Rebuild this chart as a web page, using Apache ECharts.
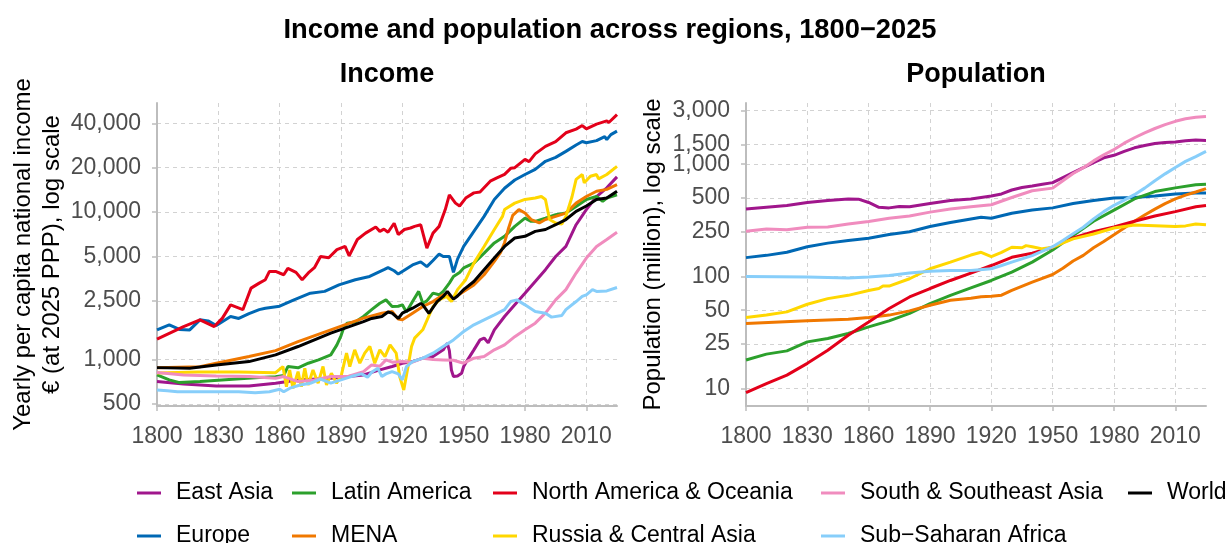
<!DOCTYPE html>
<html><head><meta charset="utf-8">
<script src="https://cdn.jsdelivr.net/npm/echarts@6/dist/echarts.min.js"></script>
<style>html,body{margin:0;padding:0;background:#fff}#c{width:1230px;height:543px}</style>
</head><body><div id="c"></div>
<script>
const FONT = "'Liberation Sans', Arial, Helvetica, sans-serif";
const xTicks = [1800, 1830, 1860, 1890, 1920, 1950, 1980, 2010];
const incomeTicks = [500, 1000, 2500, 5000, 10000, 20000, 40000];
const popTicks = [10, 25, 50, 100, 250, 500, 1000, 1500, 3000];

const regionNames = ['East Asia', 'Europe', 'Latin America', 'MENA', 'North America & Oceania',
  'Russia & Central Asia', 'South & Southeast Asia', 'Sub\u2212Saharan Africa', 'World'];
const regionColors = ['#A0168C', '#0068B4', '#2CA02C', '#F07800', '#E3001A',
  '#FFD700', '#F08CBE', '#87CEFA', '#000000'];

// Income, yearly per capita national income (EUR 2025 PPP)
const incEastAsia = [[1800,709],[1813,684],[1829,663],[1845,663],[1858,692],[1869,728],[1885,748],[1901,787],[1909,851],[1915,897],[1920,945],[1925,969],[1930,1022],[1935,1048],[1940,1164],[1942,1290],[1943,1150],[1944,850],[1945,767],[1947,775],[1949,808],[1950,897],[1952,1000],[1955,1164],[1958,1360],[1960,1400],[1962,1300],[1965,1592],[1970,1960],[1975,2350],[1980,2820],[1985,3385],[1990,4070],[1995,5000],[2000,5850],[2005,8210],[2010,10400],[2015,12750],[2020,14600],[2025,17330]];
const incEurope = [[1800,1592],[1806,1720],[1811,1600],[1816,1590],[1821,1860],[1825,1830],[1829,1700],[1836,1960],[1840,1900],[1845,2050],[1850,2180],[1853,2230],[1860,2300],[1867,2540],[1875,2820],[1882,2900],[1889,3210],[1897,3480],[1904,3660],[1911,4070],[1913,4200],[1916,4000],[1918,3800],[1920,3960],[1925,4380],[1929,4600],[1932,4270],[1935,4700],[1938,5200],[1940,5000],[1943,5000],[1945,3900],[1947,4800],[1950,5850],[1955,7400],[1960,9350],[1965,12180],[1970,14500],[1975,16500],[1980,17970],[1985,19500],[1990,22100],[1995,23500],[2000,25800],[2005,28500],[2008,30100],[2010,29500],[2015,30500],[2019,32500],[2020,31000],[2022,33500],[2025,35400]];
const incLatinAmerica = [[1800,787],[1806,728],[1811,698],[1821,709],[1837,736],[1850,755],[1858,765],[1862,780],[1864,897],[1869,880],[1874,945],[1879,995],[1885,1076],[1888,1258],[1890,1450],[1891,1592],[1893,1766],[1897,1800],[1901,1960],[1905,2180],[1909,2410],[1912,2540],[1915,2290],[1918,2300],[1920,2350],[1922,2100],[1925,2475],[1928,2900],[1930,2410],[1932,2500],[1935,2820],[1938,2750],[1940,2900],[1943,3300],[1945,3660],[1948,3900],[1950,4180],[1955,4510],[1960,5270],[1965,6180],[1970,6850],[1975,8000],[1980,9100],[1983,8650],[1985,8650],[1990,9100],[1995,9600],[2000,9850],[2005,10930],[2010,12180],[2015,12750],[2018,11830],[2020,12450],[2025,13100]];
const incMENA = [[1800,880],[1821,895],[1829,945],[1845,1048],[1858,1150],[1869,1325],[1885,1592],[1901,1910],[1910,2064],[1915,2120],[1918,1880],[1920,1860],[1925,2064],[1930,2290],[1935,2475],[1940,2750],[1945,2610],[1950,2900],[1955,3210],[1960,3760],[1965,4630],[1968,5300],[1970,6200],[1972,7800],[1974,9500],[1977,10400],[1980,9850],[1983,8900],[1987,8440],[1990,8900],[1995,9350],[2000,9850],[2005,11500],[2010,12750],[2015,13840],[2020,14250],[2025,15330]];
const incNorthAmerica = [[1800,1375],[1813,1675],[1821,1860],[1828,1675],[1832,1910],[1836,2350],[1842,2180],[1846,3050],[1850,3300],[1853,3480],[1855,3960],[1858,3960],[1862,3760],[1864,4150],[1868,3900],[1871,3480],[1874,3870],[1877,4200],[1880,5000],[1884,4900],[1888,5570],[1892,5850],[1894,5050],[1898,6520],[1902,7200],[1907,7920],[1909,7400],[1911,7660],[1913,7300],[1916,8400],[1918,7040],[1921,7620],[1924,7800],[1926,8000],[1929,8200],[1932,5700],[1935,7200],[1938,8000],[1941,10400],[1943,13100],[1946,11500],[1948,11000],[1951,12450],[1955,13500],[1958,13700],[1963,16200],[1966,17000],[1970,18000],[1973,19800],[1975,20000],[1980,22780],[1982,22000],[1985,24800],[1990,27900],[1995,30000],[2000,34500],[2005,36500],[2008,38600],[2010,36700],[2015,39500],[2020,41500],[2021,40500],[2025,45800]];
const incRussia = [[1800,810],[1820,825],[1840,825],[1858,815],[1861.6,897],[1863.3,655],[1864.9,851],[1866.5,638],[1869,829],[1870.6,655],[1872.3,874],[1873.9,673],[1876.3,851],[1878.8,692],[1881.2,897],[1882.9,673],[1885.3,808],[1887.8,692],[1890.2,787],[1892.7,1105],[1894.3,897],[1896.7,1164],[1899.2,945],[1901.6,1105],[1904.1,1226],[1906.5,945],[1909,1164],[1911.5,1048],[1914,1258],[1917,1105],[1918.7,767],[1920.7,622],[1922.8,897],[1924.5,1226],[1926,1397],[1930,1592],[1935,2290],[1938,2540],[1941.6,2680],[1944,2475],[1947,2980],[1951,3480],[1955,4510],[1960,5850],[1965,7620],[1969,9350],[1970,10400],[1975,11500],[1980,12180],[1985,12450],[1988,12750],[1990,12180],[1992,8900],[1995,8440],[1998,8300],[2000,9350],[2003,12700],[2005,16660],[2008,17970],[2009,15800],[2012,17500],[2015,17970],[2016,16800],[2020,17970],[2025,20400]];
const incSouthAsia = [[1800,818],[1813,787],[1829,775],[1845,767],[1858,748],[1862,767],[1869,709],[1877,728],[1885,767],[1893,767],[1901,829],[1905,920],[1909,900],[1912,995],[1915,960],[1920,969],[1925,960],[1930,1022],[1935,1000],[1940,995],[1945,990],[1950,945],[1955,1022],[1960,1048],[1965,1164],[1970,1258],[1975,1430],[1980,1592],[1985,1766],[1990,2064],[1995,2540],[2000,2980],[2005,3860],[2010,4880],[2015,5850],[2020,6520],[2025,7300]];
const incSubSaharan = [[1800,622],[1805,615],[1810,606],[1820,606],[1830,606],[1840,606],[1848,595],[1855,605],[1860,630],[1862,605],[1865,640],[1870,673],[1875,690],[1880,736],[1885,692],[1890,728],[1895,767],[1900,800],[1903,760],[1905,820],[1908,874],[1910,767],[1912,800],[1915,829],[1918,800],[1920,728],[1922,897],[1925,969],[1930,1022],[1935,1105],[1940,1226],[1945,1360],[1950,1550],[1955,1720],[1960,1860],[1965,2010],[1970,2180],[1973,2475],[1976,2540],[1980,2350],[1985,2120],[1990,2064],[1993,1940],[1998,1990],[2000,2180],[2005,2475],[2008,2680],[2010,2750],[2013,2980],[2015,2900],[2020,2920],[2025,3080]];
const incWorld = [[1800,882],[1816,874],[1829,920],[1845,969],[1858,1076],[1869,1226],[1885,1510],[1901,1810],[1905,1900],[1910,1960],[1913,2100],[1915,2064],[1918,1900],[1920,2064],[1925,2230],[1929,2400],[1930,2350],[1933,2060],[1937,2475],[1940,2680],[1942,2900],[1945,2570],[1947,2700],[1950,2980],[1955,3385],[1960,4070],[1965,4880],[1970,5850],[1975,6670],[1980,6850],[1985,7400],[1990,7620],[1995,8210],[2000,8900],[2005,10100],[2010,11000],[2015,12180],[2020,12450],[2025,13840]];

// Population (million)
const popEastAsia = [[1800,398],[1810,413],[1820,428],[1830,456],[1840,474],[1850,490],[1855,488],[1860,456],[1865,413],[1870,408],[1875,420],[1880,418],[1890,446],[1900,474],[1910,490],[1920,521],[1925,543],[1930,589],[1935,620],[1940,640],[1945,662],[1950,685],[1955,760],[1960,842],[1965,930],[1970,1030],[1975,1140],[1980,1200],[1985,1300],[1990,1400],[1995,1470],[2000,1530],[2005,1560],[2010,1580],[2015,1620],[2020,1640],[2025,1630]];
const popEurope = [[1800,147],[1810,154],[1820,164],[1830,184],[1840,198],[1850,209],[1860,219],[1870,236],[1880,250],[1890,278],[1900,302],[1910,325],[1915,337],[1920,330],[1930,365],[1940,390],[1950,408],[1960,446],[1970,474],[1980,500],[1990,505],[2000,521],[2010,543],[2020,553],[2025,555]];
const popLatinAmerica = [[1800,18],[1810,20.3],[1820,21.7],[1830,26.1],[1840,28],[1850,31],[1860,35.5],[1870,40.2],[1880,46.8],[1890,57.2],[1900,67.8],[1910,79],[1920,92],[1930,109],[1940,134],[1950,172],[1960,231],[1970,310],[1980,390],[1990,490],[2000,570],[2010,615],[2020,655],[2025,662]];
const popMENA = [[1800,38.1],[1830,40.2],[1850,41.5],[1860,43],[1870,45.2],[1880,49.3],[1890,55.3],[1900,61.3],[1910,64],[1915,66],[1920,66.5],[1925,68],[1930,75],[1940,88.9],[1950,104],[1955,118],[1960,137],[1965,154],[1970,180],[1975,205],[1980,235],[1985,270],[1990,310],[1995,352],[2000,398],[2005,445],[2010,490],[2015,530],[2020,565],[2025,605]];
const popNorthAmerica = [[1800,9.2],[1810,11.1],[1820,13.2],[1830,16.8],[1840,22],[1850,29.9],[1860,39.3],[1870,51.7],[1880,65.6],[1890,78],[1900,92],[1910,107],[1920,125],[1930,148],[1940,161],[1950,182],[1960,220],[1970,250],[1980,276],[1990,310],[2000,345],[2010,378],[2020,418],[2025,428]];
const popRussia = [[1800,43],[1810,45.2],[1820,48.3],[1830,56.5],[1840,63.4],[1850,67.8],[1860,75],[1865,78],[1867,82],[1870,82],[1880,95.3],[1890,117],[1900,134],[1910,155],[1915,164],[1920,150],[1925,164],[1930,182],[1935,180],[1937,188],[1940,184],[1945,176],[1950,182],[1960,216],[1970,239],[1980,270],[1990,287],[2000,283],[2010,278],[2015,282],[2020,293],[2025,288]];
const popSouthAsia = [[1800,253],[1810,265],[1820,260],[1830,274],[1840,276],[1850,293],[1860,309],[1870,330],[1880,345],[1890,374],[1900,398],[1910,418],[1920,435],[1930,505],[1940,580],[1950,612],[1955,713],[1960,825],[1965,930],[1970,1070],[1975,1210],[1980,1350],[1985,1540],[1990,1720],[1995,1900],[2000,2080],[2005,2250],[2010,2410],[2015,2540],[2020,2620],[2025,2660]];
const popSubSaharan = [[1800,100],[1830,98.7],[1850,97],[1860,98.7],[1870,102],[1880,107],[1890,111],[1900,113],[1910,113],[1920,117],[1925,125],[1930,134],[1940,153],[1950,184],[1955,209],[1960,240],[1965,274],[1970,325],[1975,378],[1980,430],[1985,478],[1990,535],[1995,612],[2000,713],[2005,820],[2010,935],[2015,1060],[2020,1170],[2025,1300]];

const incomeData = [incEastAsia, incEurope, incLatinAmerica, incMENA, incNorthAmerica, incRussia, incSouthAsia, incSubSaharan, incWorld];
const popData = [popEastAsia, popEurope, popLatinAmerica, popMENA, popNorthAmerica, popRussia, popSouthAsia, popSubSaharan, null];

// legend layout: [name, column, row]
const legendItems = [
  ['East Asia', 0, 0], ['Europe', 0, 1],
  ['Latin America', 1, 0], ['MENA', 1, 1],
  ['North America & Oceania', 2, 0], ['Russia & Central Asia', 2, 1],
  ['South & Southeast Asia', 3, 0], ['Sub\u2212Saharan Africa', 3, 1],
  ['World', 4, 0]
];
const legendLefts = [137, 292, 493, 821, 1128];
const legendTops = [480, 523];

function fmt(v) { return String(Math.round(v)).replace(/\B(?=(\d{3})+(?!\d))/g, ','); }

const chart = echarts.init(document.getElementById('c'), null, { renderer: 'canvas' });

const gridLine = { show: true, lineStyle: { color: '#d2d2d2', width: 1, type: [4, 4] } };
const axisLineStyle = { show: true, lineStyle: { color: '#bdbdbd', width: 2 } };

function xAxis(gi) {
  return {
    type: 'value', gridIndex: gi, min: 1800, max: 2025, interval: 30,
    axisLine: axisLineStyle,
    axisTick: { show: true, length: 5, customValues: xTicks, lineStyle: { color: '#bdbdbd', width: 1.5 } },
    axisLabel: { customValues: xTicks, fontSize: 23, color: '#4d4d4d', fontFamily: FONT, margin: 19, hideOverlap: false,
      formatter: v => String(v) },
    splitLine: gridLine
  };
}
function yAxis(gi, min, max, ticks, name, gap, lh) {
  return {
    type: 'log', logBase: 10, gridIndex: gi, min: min, max: max,
    name: name, nameLocation: 'middle', nameRotate: 90, nameGap: gap,
    nameTextStyle: { fontSize: 24, color: '#000', fontFamily: FONT, lineHeight: lh },
    axisLine: axisLineStyle,
    axisTick: { show: true, length: 5, customValues: ticks, lineStyle: { color: '#bdbdbd', width: 1.5 } },
    axisLabel: { customValues: ticks, fontSize: 23, color: '#4d4d4d', fontFamily: FONT, margin: 16, formatter: fmt, hideOverlap: false },
    splitLine: gridLine
  };
}

const series = [];
regionNames.forEach((name, i) => {
  series.push({
    name: name, type: 'line', xAxisIndex: 0, yAxisIndex: 0, data: incomeData[i],
    showSymbol: false, symbol: 'none', lineStyle: { width: 3, color: regionColors[i] },
    itemStyle: { color: regionColors[i] }, z: 2 + i, animation: false
  });
  if (popData[i]) {
    series.push({
      name: name, type: 'line', xAxisIndex: 1, yAxisIndex: 1, data: popData[i],
      showSymbol: false, symbol: 'none', lineStyle: { width: 3, color: regionColors[i] },
      itemStyle: { color: regionColors[i] }, z: 2 + i, animation: false
    });
  }
});

const legends = legendItems.map(([name, col, row]) => ({
  data: [name], orient: 'horizontal', left: legendLefts[col], top: legendTops[row],
  icon: 'rect', itemWidth: 24, itemHeight: 3, itemGap: 0, selectedMode: false,
  padding: 0,
  textStyle: { fontSize: 23, color: '#000', fontFamily: FONT, lineHeight: 26, padding: [0, 0, 0, 10] }
}));

chart.setOption({
  animation: false,
  backgroundColor: '#fff',
  graphic: [
    { type: 'text', x: 610, y: 30, style: { text: 'Income and population across regions, 1800\u22122025', font: "bold 27.3px " + FONT, fill: '#000', textAlign: 'center', textVerticalAlign: 'middle' } },
    { type: 'text', x: 387, y: 75, style: { text: 'Income', font: "bold 27px " + FONT, fill: '#000', textAlign: 'center', textVerticalAlign: 'middle' } },
    { type: 'text', x: 976, y: 75, style: { text: 'Population', font: "bold 27px " + FONT, fill: '#000', textAlign: 'center', textVerticalAlign: 'middle' } }
  ],
  grid: [
    { left: 157, top: 103, width: 460, height: 303, containLabel: false, outerBoundsMode: 'none' },
    { left: 746, top: 103, width: 460, height: 303, containLabel: false, outerBoundsMode: 'none' }
  ],
  xAxis: [xAxis(0), xAxis(1)],
  yAxis: [
    yAxis(0, 484.5, 54900, incomeTicks, 'Yearly per capita national income\n\u20ac (at 2025 PPP), log scale', 89, 29),
    yAxis(1, 7.0, 3510, popTicks, 'Population (million), log scale', 80, 26)
  ],
  legend: legends,
  series: series
});
</script></body></html>
